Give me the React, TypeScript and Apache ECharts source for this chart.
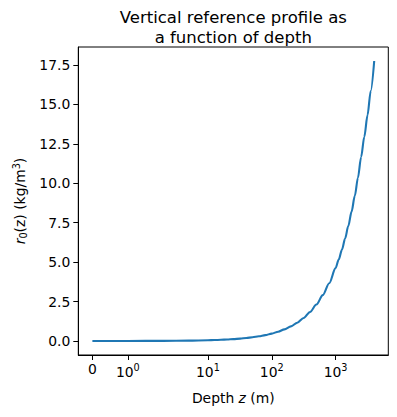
import React, { useEffect, useRef } from "react";
import * as echarts from "echarts";

// Depth (m) and reference profile r0 (kg/m^3)
const depth = [0, 0.5, 1, 2, 5, 10, 12.6, 16, 20, 25, 32, 40, 50, 63, 79, 100, 126, 158, 200, 251, 316, 398, 501, 631, 794, 1000, 1120, 1260, 1410, 1580, 1780, 2000, 2240, 2510, 2820, 3160, 3550, 4028];
const r0 = [0, 0.002, 0.0045, 0.009, 0.023, 0.047, 0.06, 0.075, 0.095, 0.12, 0.15, 0.19, 0.24, 0.3, 0.37, 0.47, 0.59, 0.74, 0.93, 1.16, 1.46, 1.84, 2.31, 2.91, 3.66, 4.62, 5.16, 5.8, 6.5, 7.28, 8.2, 9.2, 10.35, 11.65, 12.95, 14.3, 15.85, 17.75];

const xTickDepths = [0, 1, 10, 100, 1000];
const xTickLabels = ["0", "10{sup|0}", "10{sup|1}", "10{sup|2}", "10{sup|3}"];
const yTicks = [0, 2.5, 5, 7.5, 10, 12.5, 15, 17.5];

// symlog transform (linthresh = 2, linscale = 1, base 10)
const LINTHRESH = 2;
const LINSCALE_ADJ = 1 / (1 - 1 / 10);
const symlog = (z: number) =>
  Math.abs(z) <= LINTHRESH
    ? (z / LINTHRESH) * LINSCALE_ADJ
    : Math.sign(z) * (LINSCALE_ADJ + Math.log10(Math.abs(z) / LINTHRESH));

const FONT = "DejaVu Sans";

export default function App() {
  const ref = useRef<HTMLDivElement>(null);
  useEffect(() => {
    if (!ref.current) return;
    const chart = echarts.init(ref.current, undefined, { renderer: "svg" });
    const uData = depth.map((d, i) => [symlog(d), r0[i]]);
    const uMax = symlog(depth[depth.length - 1]);
    const xPad = uMax * 0.05;
    const yMin = Math.min(...r0);
    const yMax = Math.max(...r0);
    const yPad = (yMax - yMin) * 0.05;
    const xTickU = xTickDepths.map(symlog);
    const gridLeft = 78.3;
    const gridRight = 8.7;
    const gridWidth = 397 - gridLeft - gridRight;
    chart.setOption({
      animation: false,
      textStyle: { fontFamily: FONT },
      grid: {
        left: gridLeft,
        right: gridRight,
        top: 47,
        bottom: 62,
        show: true,
        borderColor: "#000",
        borderWidth: 1,
        containLabel: false,
      },
      graphic: [
        {
          type: "text",
          x: gridLeft + gridWidth / 2,
          y: 8,
          style: {
            text: "Vertical reference profile as\na function of depth",
            font: `16.5px ${FONT}`,
            fill: "#000",
            align: "center",
            verticalAlign: "top",
            lineHeight: 19.5,
          },
        },
      ],
      xAxis: {
        type: "value",
        min: -xPad,
        max: uMax + xPad,
        splitLine: { show: false },
        axisLine: { show: true, onZero: false, lineStyle: { color: "#000", width: 1 } },
        axisTick: {
          show: true,
          inside: false,
          length: 5,
          lineStyle: { color: "#000", width: 1 },
          customValues: xTickU,
        },
        axisLabel: {
          show: true,
          margin: 7,
          color: "#000",
          fontSize: 13.9,
          fontFamily: FONT,
          customValues: xTickU,
          formatter: (v: number) => {
            let best = 0;
            xTickU.forEach((t, i) => {
              if (Math.abs(t - v) < Math.abs(xTickU[best] - v)) best = i;
            });
            return xTickLabels[best];
          },
          rich: {
            sup: { fontSize: 9.7, fontFamily: FONT, color: "#000", padding: [0, 0, 9, 0] },
          },
        },
        name: "Depth {i|z} (m)",
        nameLocation: "middle",
        nameGap: 36,
        nameTextStyle: {
          color: "#000",
          fontSize: 13.9,
          fontFamily: FONT,
          rich: { i: { fontStyle: "italic", fontSize: 13.9, fontFamily: FONT, color: "#000" } },
        },
      },
      yAxis: {
        type: "value",
        min: yMin - yPad,
        max: yMax + yPad,
        splitLine: { show: false },
        axisLine: { show: true, onZero: false, lineStyle: { color: "#000", width: 1 } },
        axisTick: {
          show: true,
          inside: false,
          length: 5,
          lineStyle: { color: "#000", width: 1 },
          customValues: yTicks,
        },
        axisLabel: {
          show: true,
          margin: 8,
          color: "#000",
          fontSize: 13.9,
          fontFamily: FONT,
          customValues: yTicks,
          formatter: (v: number) => v.toFixed(1),
        },
        name: "{i|r}{sub|0}(z) (kg/m{sup|3})",
        nameLocation: "middle",
        nameRotate: 90,
        nameGap: 45,
        nameTextStyle: {
          color: "#000",
          fontSize: 13.9,
          fontFamily: FONT,
          rich: {
            i: { fontStyle: "italic", fontSize: 13.9, fontFamily: FONT, color: "#000" },
            sub: { fontSize: 9.7, fontFamily: FONT, color: "#000", padding: [6, 0, 0, 0] },
            sup: { fontSize: 9.7, fontFamily: FONT, color: "#000", padding: [0, 0, 8, 0] },
          },
        },
      },
      series: [
        {
          type: "line",
          data: uData,
          showSymbol: false,
          smooth: 0.3,
          smoothMonotone: "x",
          lineStyle: { color: "#1f77b4", width: 2.1 },
          itemStyle: { color: "#1f77b4" },
        },
      ],
    });
    return () => chart.dispose();
  }, []);
  return <div ref={ref} style={{ width: 397, height: 417, position: "absolute", left: 0, top: 0 }} />;
}
